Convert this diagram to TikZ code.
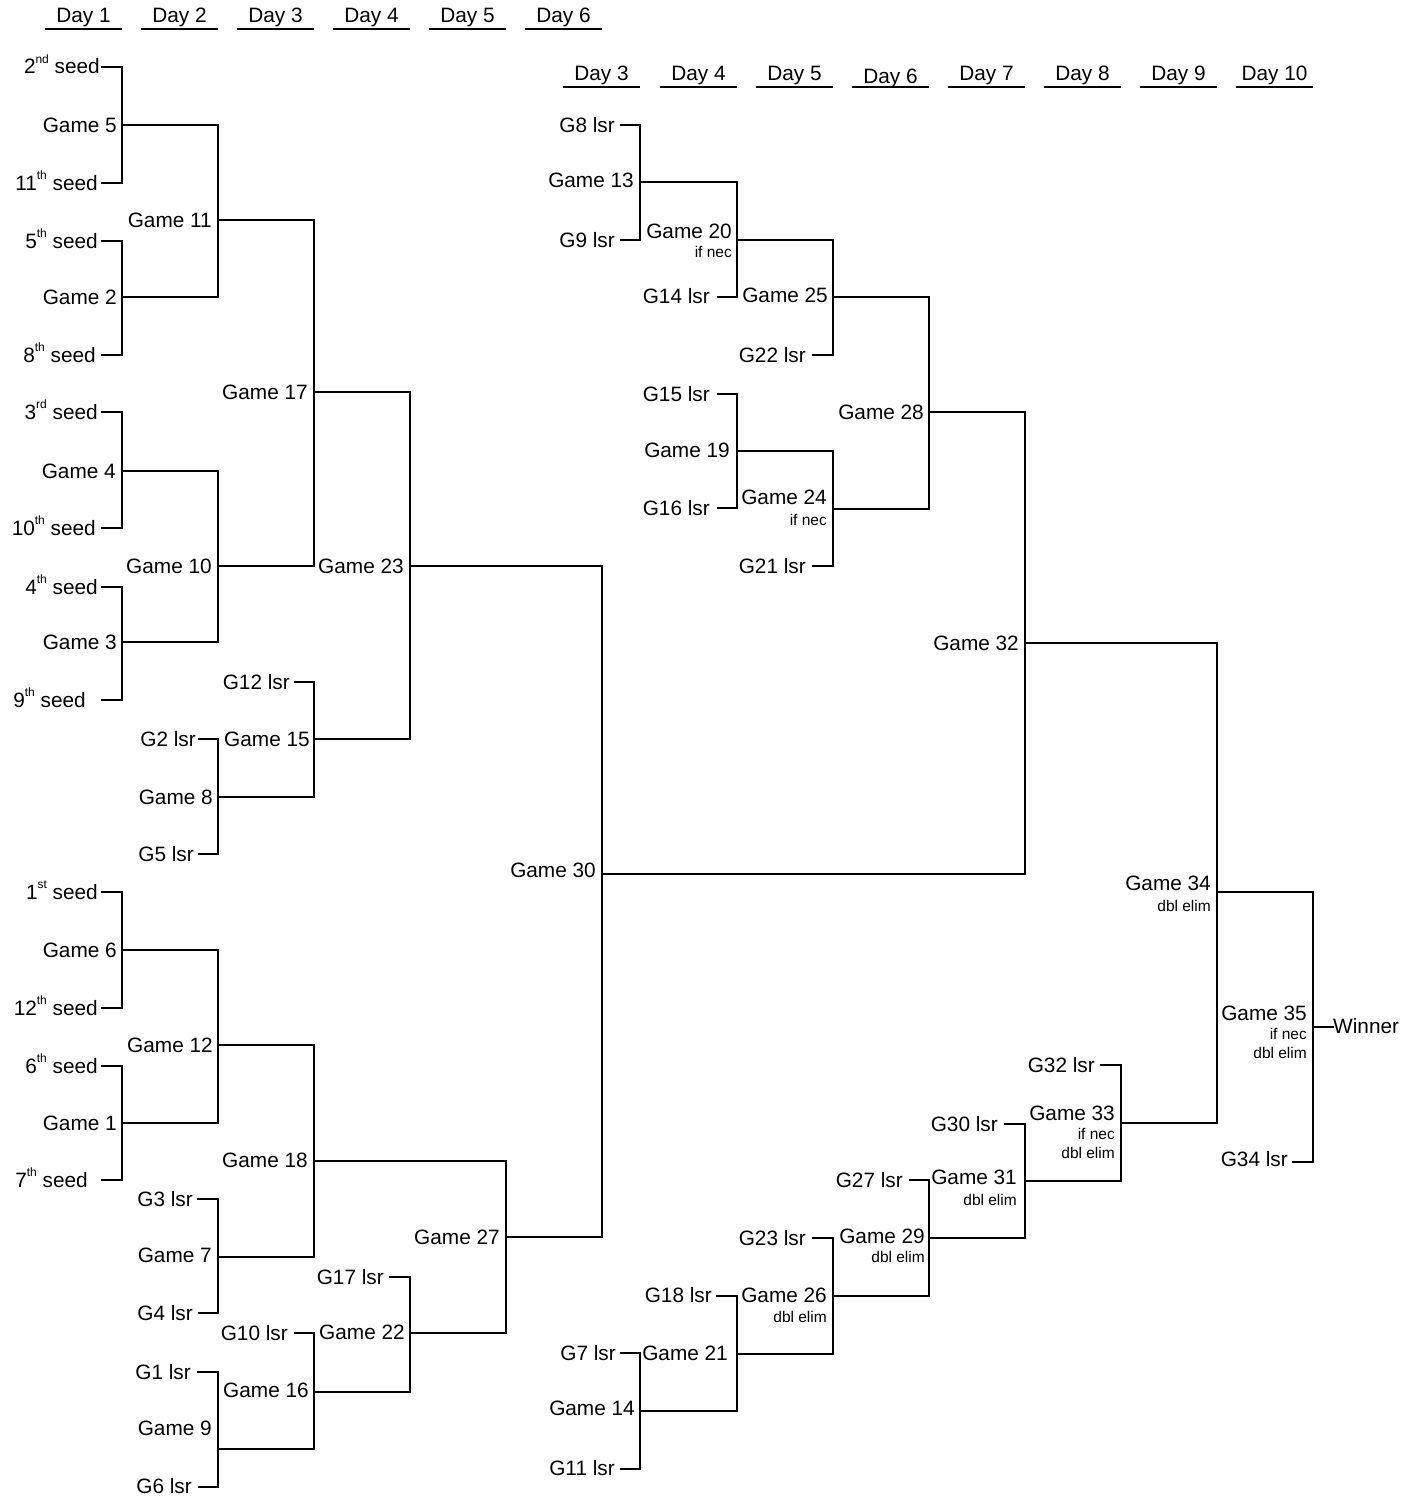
\documentclass[tikz,border=0pt]{standalone}
\usepackage{fontspec}
\setmainfont{Liberation Sans}
\newcommand\ordsup[1]{\raisebox{10.5pt}{\fontsize{12}{12}\selectfont #1}}
\tikzset{
  ln/.style={line width=1.8pt, line cap=rect, line join=miter},
  lbl/.style={anchor=base east, inner sep=0pt, font=\fontsize{20.8}{24}\selectfont},
  sm/.style={anchor=base east, inner sep=0pt, font=\fontsize{15.5}{18}\selectfont},
  hd/.style={anchor=base, inner sep=0pt, font=\fontsize{20.8}{24}\selectfont},
}
\begin{document}
\begin{tikzpicture}[x=1pt,y=-1pt]
\useasboundingbox (0,0) rectangle (1414,1496);

% ---------- headers ----------
\foreach \i/\x in {1/122,2/218,3/314,4/410,5/506,6/602}{
  \coordinate (uLa\i) at (\x-77,29);
  \coordinate (uLb\i) at (\x,29);
  \draw[ln,line cap=butt] (uLa\i) -- (uLb\i);
  \node[hd] (dL\i) at (\x-38.5,23) {Day \i};
}
\foreach \i/\x/\b in {3/640/81,4/737/81,5/833/81,6/929/83,7/1025/81,8/1121/81,9/1217/81,10/1313/81}{
  \coordinate (uRa\i) at (\x-77,87);
  \coordinate (uRb\i) at (\x,87);
  \draw[ln,line cap=butt] (uRa\i) -- (uRb\i);
  \node[hd] (dR\i) at (\x-38.5,\b) {Day \i};
}

% ---------- coordinates: left bracket ----------
\coordinate (g5T) at (122,67);   \coordinate (g5B) at (122,183);  \coordinate (g5O) at (122,125);
\coordinate (g2T) at (122,241);  \coordinate (g2B) at (122,355);  \coordinate (g2O) at (122,297);
\coordinate (g4T) at (122,412);  \coordinate (g4B) at (122,528);  \coordinate (g4O) at (122,471);
\coordinate (g3T) at (122,587);  \coordinate (g3B) at (122,700);  \coordinate (g3O) at (122,642);
\coordinate (g11T) at (218,125); \coordinate (g11B) at (218,297); \coordinate (g11O) at (218,220);
\coordinate (g10T) at (218,471); \coordinate (g10B) at (218,642); \coordinate (g10O) at (218,566);
\coordinate (g17T) at (314,220); \coordinate (g17B) at (314,566); \coordinate (g17O) at (314,392);
\coordinate (g8T) at (218,739);  \coordinate (g8B) at (218,854);  \coordinate (g8O) at (218,797);
\coordinate (g15T) at (314,682); \coordinate (g15B) at (314,797); \coordinate (g15O) at (314,739);
\coordinate (g23T) at (410,392); \coordinate (g23B) at (410,739); \coordinate (g23O) at (410,566);
\coordinate (g6T) at (122,892);  \coordinate (g6B) at (122,1008); \coordinate (g6O) at (122,950);
\coordinate (g1T) at (122,1066); \coordinate (g1B) at (122,1180); \coordinate (g1O) at (122,1123);
\coordinate (g12T) at (218,950); \coordinate (g12B) at (218,1123); \coordinate (g12O) at (218,1045);
\coordinate (g7T) at (218,1199); \coordinate (g7B) at (218,1313); \coordinate (g7O) at (218,1257);
\coordinate (g18T) at (314,1045); \coordinate (g18B) at (314,1257); \coordinate (g18O) at (314,1161);
\coordinate (g9T) at (218,1372); \coordinate (g9B) at (218,1487); \coordinate (g9O) at (218,1449);
\coordinate (g16T) at (314,1333); \coordinate (g16B) at (314,1449); \coordinate (g16O) at (314,1392);
\coordinate (g22T) at (410,1277); \coordinate (g22B) at (410,1392); \coordinate (g22O) at (410,1333);
\coordinate (g27T) at (506,1161); \coordinate (g27B) at (506,1333); \coordinate (g27O) at (506,1237);
\coordinate (g30T) at (602,566); \coordinate (g30B) at (602,1237); \coordinate (g30O) at (602,874);

% ---------- coordinates: right bracket ----------
\coordinate (g13T) at (640,125); \coordinate (g13B) at (640,240); \coordinate (g13O) at (640,182);
\coordinate (g20T) at (737,182); \coordinate (g20B) at (737,297); \coordinate (g20O) at (737,240);
\coordinate (g25T) at (833,240); \coordinate (g25B) at (833,355); \coordinate (g25O) at (833,297);
\coordinate (g19T) at (737,394); \coordinate (g19B) at (737,508); \coordinate (g19O) at (737,451);
\coordinate (g24T) at (833,451); \coordinate (g24B) at (833,566); \coordinate (g24O) at (833,509);
\coordinate (g28T) at (929,297); \coordinate (g28B) at (929,509); \coordinate (g28O) at (929,412);
\coordinate (g32T) at (1025,412); \coordinate (g32B) at (1025,874); \coordinate (g32O) at (1025,643);
\coordinate (g14T) at (640,1353); \coordinate (g14B) at (640,1469); \coordinate (g14O) at (640,1411);
\coordinate (g21T) at (737,1296); \coordinate (g21B) at (737,1411); \coordinate (g21O) at (737,1354);
\coordinate (g26T) at (833,1238); \coordinate (g26B) at (833,1354); \coordinate (g26O) at (833,1296);
\coordinate (g29T) at (929,1180); \coordinate (g29B) at (929,1296); \coordinate (g29O) at (929,1238);
\coordinate (g31T) at (1025,1124); \coordinate (g31B) at (1025,1238); \coordinate (g31O) at (1025,1181);
\coordinate (g33T) at (1121,1065); \coordinate (g33B) at (1121,1181); \coordinate (g33O) at (1121,1123);
\coordinate (g34T) at (1217,643); \coordinate (g34B) at (1217,1123); \coordinate (g34O) at (1217,892);
\coordinate (g35T) at (1313,892); \coordinate (g35B) at (1313,1162); \coordinate (g35O) at (1313,1027);

% ---------- stub starts ----------
\coordinate (sL2) at (102,67);   \coordinate (sL11) at (102,183);
\coordinate (sL5) at (102,241);  \coordinate (sL8) at (102,355);
\coordinate (sL3) at (102,412);  \coordinate (sL10) at (102,528);
\coordinate (sL4) at (102,587);  \coordinate (sL9) at (102,700);
\coordinate (sL1) at (102,892);  \coordinate (sL12) at (102,1008);
\coordinate (sL6) at (102,1066); \coordinate (sL7) at (102,1180);
\coordinate (lL12) at (295,682); \coordinate (lL2) at (199,739); \coordinate (lL5) at (199,854);
\coordinate (lL3) at (198,1199); \coordinate (lL4) at (199,1313);
\coordinate (lL17) at (390,1277); \coordinate (lL10) at (295,1333);
\coordinate (lL1) at (198,1372); \coordinate (lL6) at (199,1487);
\coordinate (lR8) at (621,125);  \coordinate (lR9) at (621,240);
\coordinate (lR14) at (718,297); \coordinate (lR22) at (813,355);
\coordinate (lR15) at (718,394); \coordinate (lR16) at (718,508); \coordinate (lR21) at (813,566);
\coordinate (lR34) at (1293,1162); \coordinate (lR32) at (1101,1065);
\coordinate (lR30) at (1005,1124); \coordinate (lR27) at (910,1180);
\coordinate (lR23) at (813,1238); \coordinate (lR18) at (717,1296);
\coordinate (lR7) at (621,1353); \coordinate (lR11) at (621,1469);

% ---------- labels: left ----------
\node[lbl] (tS2) at (100,74) {2\ordsup{nd} seed};
\node[lbl] (tG5) at (117,132) {Game 5};
\node[lbl] (tS11) at (98,190) {11\ordsup{th} seed};
\node[lbl] (tG11) at (212,227) {Game 11};
\node[lbl] (tS5) at (98,248) {5\ordsup{th} seed};
\node[lbl] (tG2) at (117,304) {Game 2};
\node[lbl] (tS8) at (96,362) {8\ordsup{th} seed};
\node[lbl] (tG17) at (308,399) {Game 17};
\node[lbl] (tS3) at (98,419) {3\ordsup{rd} seed};
\node[lbl] (tG4) at (116,478) {Game 4};
\node[lbl] (tS10) at (96,535) {10\ordsup{th} seed};
\node[lbl] (tG10) at (212,573) {Game 10};
\node[lbl] (tS4) at (98,594) {4\ordsup{th} seed};
\node[lbl] (tG3) at (117,649) {Game 3};
\node[lbl] (tS9) at (86,707) {9\ordsup{th} seed};
\node[lbl] (tG23) at (404,573) {Game 23};
\node[lbl] (tL12) at (290,689) {G12 lsr};
\node[lbl] (tG15) at (310,746) {Game 15};
\node[lbl] (tL2) at (196,746) {G2 lsr};
\node[lbl] (tG8) at (213,804) {Game 8};
\node[lbl] (tL5) at (194,861) {G5 lsr};
\node[lbl] (tG30) at (596,877) {Game 30};
\node[lbl] (tS1) at (98,899) {1\ordsup{st} seed};
\node[lbl] (tG6) at (117,957) {Game 6};
\node[lbl] (tS12) at (98,1015) {12\ordsup{th} seed};
\node[lbl] (tG12) at (213,1052) {Game 12};
\node[lbl] (tS6) at (98,1073) {6\ordsup{th} seed};
\node[lbl] (tG1) at (117,1130) {Game 1};
\node[lbl] (tS7) at (88,1187) {7\ordsup{th} seed};
\node[lbl] (tG18) at (308,1167) {Game 18};
\node[lbl] (tL3) at (193,1206) {G3 lsr};
\node[lbl] (tG7) at (212,1262) {Game 7};
\node[lbl] (tL4) at (193,1320) {G4 lsr};
\node[lbl] (tL17) at (384,1284) {G17 lsr};
\node[lbl] (tL10) at (288,1340) {G10 lsr};
\node[lbl] (tG22) at (405,1339) {Game 22};
\node[lbl] (tL1) at (191,1379) {G1 lsr};
\node[lbl] (tG16) at (309,1397) {Game 16};
\node[lbl] (tG9) at (212,1435) {Game 9};
\node[lbl] (tL6) at (192,1493) {G6 lsr};
\node[lbl] (tG27) at (500,1244) {Game 27};

% ---------- labels: right ----------
\node[lbl] (tL8) at (615,132) {G8 lsr};
\node[lbl] (tG13) at (634,187) {Game 13};
\node[lbl] (tL9) at (615,247) {G9 lsr};
\node[lbl] (tG20) at (732,238) {Game 20};
\node[sm] (nG20) at (732,257) {if nec};
\node[lbl] (tL14) at (710,303) {G14 lsr};
\node[lbl] (tG25) at (828,302) {Game 25};
\node[lbl] (tL22) at (806,362) {G22 lsr};
\node[lbl] (tL15) at (710,401) {G15 lsr};
\node[lbl] (tG19) at (730,457) {Game 19};
\node[lbl] (tL16) at (710,515) {G16 lsr};
\node[lbl] (tG24) at (827,504) {Game 24};
\node[sm] (nG24) at (827,525) {if nec};
\node[lbl] (tL21) at (806,573) {G21 lsr};
\node[lbl] (tG28) at (924,419) {Game 28};
\node[lbl] (tG32) at (1019,650) {Game 32};
\node[lbl] (tG34) at (1211,890) {Game 34};
\node[sm] (nG34) at (1211,911) {dbl elim};
\node[lbl] (tG35) at (1307,1020) {Game 35};
\node[sm] (nG35a) at (1307,1039) {if nec};
\node[sm] (nG35b) at (1307,1058) {dbl elim};
\node[anchor=base west, inner sep=0pt, font=\fontsize{20.8}{24}\selectfont] (tWin) at (1333,1033) {Winner};
\node[lbl] (tL34) at (1288,1166) {G34 lsr};
\node[lbl] (tL32) at (1095,1072) {G32 lsr};
\node[lbl] (tG33) at (1115,1120) {Game 33};
\node[sm] (nG33a) at (1115,1139) {if nec};
\node[sm] (nG33b) at (1115,1158) {dbl elim};
\node[lbl] (tL30) at (998,1131) {G30 lsr};
\node[lbl] (tG31) at (1017,1184) {Game 31};
\node[sm] (nG31) at (1017,1205) {dbl elim};
\node[lbl] (tL27) at (903,1187) {G27 lsr};
\node[lbl] (tG29) at (925,1243) {Game 29};
\node[sm] (nG29) at (925,1262) {dbl elim};
\node[lbl] (tL23) at (806,1245) {G23 lsr};
\node[lbl] (tG26) at (827,1302) {Game 26};
\node[sm] (nG26) at (827,1322) {dbl elim};
\node[lbl] (tL18) at (712,1302) {G18 lsr};
\node[lbl] (tG21) at (728,1360) {Game 21};
\node[lbl] (tL7) at (616,1360) {G7 lsr};
\node[lbl] (tG14) at (635,1415) {Game 14};
\node[lbl] (tL11) at (615,1475) {G11 lsr};

% ---------- verticals with stubs ----------
\draw[ln] (sL2) -- (g5T) -- (g5B) -- (sL11);
\draw[ln] (sL5) -- (g2T) -- (g2B) -- (sL8);
\draw[ln] (sL3) -- (g4T) -- (g4B) -- (sL10);
\draw[ln] (sL4) -- (g3T) -- (g3B) -- (sL9);
\draw[ln] (g11T) -- (g11B);
\draw[ln] (g10T) -- (g10B);
\draw[ln] (g17T) -- (g17B);
\draw[ln] (lL2) -- (g8T) -- (g8B) -- (lL5);
\draw[ln] (lL12) -- (g15T) -- (g15B);
\draw[ln] (g23T) -- (g23B);
\draw[ln] (sL1) -- (g6T) -- (g6B) -- (sL12);
\draw[ln] (sL6) -- (g1T) -- (g1B) -- (sL7);
\draw[ln] (g12T) -- (g12B);
\draw[ln] (lL3) -- (g7T) -- (g7B) -- (lL4);
\draw[ln] (g18T) -- (g18B);
\draw[ln] (lL1) -- (g9T) -- (g9B) -- (lL6);
\draw[ln] (lL10) -- (g16T) -- (g16B);
\draw[ln] (lL17) -- (g22T) -- (g22B);
\draw[ln] (g27T) -- (g27B);
\draw[ln] (g30T) -- (g30B);

\draw[ln] (lR8) -- (g13T) -- (g13B) -- (lR9);
\draw[ln] (g20T) -- (g20B) -- (lR14);
\draw[ln] (g25T) -- (g25B) -- (lR22);
\draw[ln] (lR15) -- (g19T) -- (g19B) -- (lR16);
\draw[ln] (g24T) -- (g24B) -- (lR21);
\draw[ln] (g28T) -- (g28B);
\draw[ln] (g32T) -- (g32B);
\draw[ln] (lR7) -- (g14T) -- (g14B) -- (lR11);
\draw[ln] (lR18) -- (g21T) -- (g21B);
\draw[ln] (lR23) -- (g26T) -- (g26B);
\draw[ln] (lR27) -- (g29T) -- (g29B);
\draw[ln] (lR30) -- (g31T) -- (g31B);
\draw[ln] (lR32) -- (g33T) -- (g33B);
\draw[ln] (g34T) -- (g34B);
\draw[ln] (g35T) -- (g35B) -- (lR34);

% ---------- winner outputs ----------
\foreach \a/\b in {g5/g11,g2/g11,g4/g10,g3/g10,g11/g17,g10/g17,g17/g23,g8/g15,g15/g23,g23/g30,
                   g6/g12,g1/g12,g12/g18,g7/g18,g18/g27,g9/g16,g16/g22,g22/g27,g27/g30,g30/g32,
                   g13/g20,g20/g25,g25/g28,g19/g24,g24/g28,g28/g32,g32/g34,
                   g14/g21,g21/g26,g26/g29,g29/g31,g31/g33,g33/g34,g34/g35}{
  \draw[ln] (\a O) -- (\a O -| \b T);
}
\draw[ln] (g35O) -- (g35O -| tWin.west);
\end{tikzpicture}
\end{document}
